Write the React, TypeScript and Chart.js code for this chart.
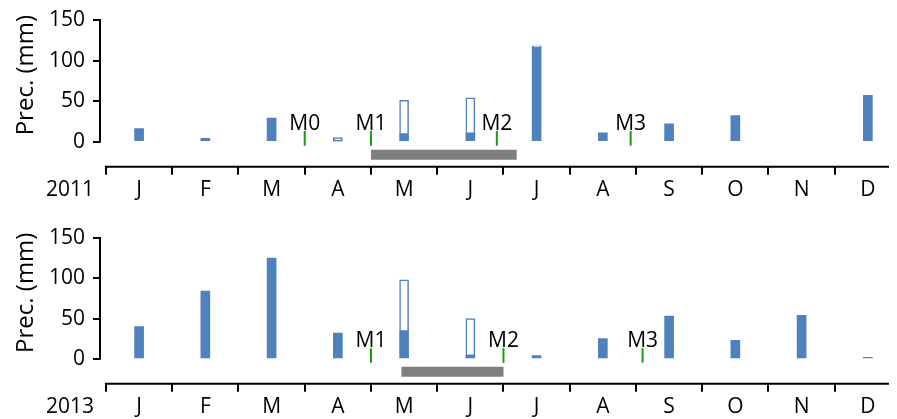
import React, { useEffect, useRef } from 'react';
import { Chart, registerables } from 'chart.js';

Chart.register(...registerables);

// ---------- data ----------
const MONTHS = ['J', 'F', 'M', 'A', 'M', 'J', 'J', 'A', 'S', 'O', 'N', 'D'];
const Y_TICKS = [0, 50, 100, 150];

const FILLED_2011 = [16, 4, 29, 1, 9, 10, 116, 11, 22, 32, 0, 57];
const TOTAL_2011 = [16, 4, 29, 5, 51, 54, 118, 11, 22, 32, 0, 57];
const MARK_NAMES_2011 = ['M0', 'M1', 'M2', 'M3'];
const MARK_POS_2011 = [3.0, 4.0, 5.9, 7.92];
const GRAY_2011 = [4.0, 6.2];

const FILLED_2013 = [40, 84, 125, 32, 34, 4, 4, 25, 53, 23, 54, 2];
const TOTAL_2013 = [40, 84, 125, 32, 98, 50, 4, 25, 53, 23, 54, 2];
const MARK_NAMES_2013 = ['M1', 'M2', 'M3'];
const MARK_POS_2013 = [4.0, 6.0, 8.1];
const GRAY_2013 = [4.46, 6.0];

// ---------- style ----------
const BLUE = '#4f81bd';
const GREEN = '#12a012';
const GRAY = '#7f7f7f';
const FAMILY = "'Open Sans', sans-serif";
const TICK_SIZE = 21;
const TITLE_SIZE = 24;
const X_TICK_LEN = 8;
const X_TICK_PAD = 3;
const MARK_LO = -5;
const MARK_HI = 13;
const LABEL_Y = 22;
const GRAY_Y = -16;
const TITLE_CENTER = 82;

const decor = {
  id: 'decor',
  afterDraw(chart: any, _args: any, opts: any) {
    const { ctx, chartArea, scales } = chart;
    const x = scales.x;
    const y = scales.y;
    ctx.save();
    ctx.strokeStyle = '#000';
    ctx.lineWidth = 2;
    // y axis line (0..150)
    const ax = chartArea.left;
    ctx.beginPath();
    ctx.moveTo(ax, y.getPixelForValue(Y_TICKS[Y_TICKS.length - 1]) - 1);
    ctx.lineTo(ax, y.getPixelForValue(0) + 1);
    ctx.stroke();
    // timeline axis line
    ctx.beginPath();
    ctx.moveTo(x.getPixelForValue(0) - 1, chartArea.bottom);
    ctx.lineTo(chartArea.right, chartArea.bottom);
    ctx.stroke();

    ctx.fillStyle = '#000';
    // year label
    ctx.font = `${TICK_SIZE}px ${FAMILY}`;
    ctx.textAlign = 'right';
    ctx.textBaseline = 'middle';
    const ly = x.top + X_TICK_LEN + X_TICK_PAD + (TICK_SIZE * 1.2) / 2;
    ctx.fillText(opts.year, x.getPixelForValue(0) - 12, ly);

    // marker labels
    ctx.textAlign = 'center';
    opts.names.forEach((n: string, i: number) => {
      ctx.fillText(n, x.getPixelForValue(opts.pos[i]), y.getPixelForValue(LABEL_Y));
    });

    // y title
    ctx.font = `${TITLE_SIZE}px ${FAMILY}`;
    ctx.translate(18, y.getPixelForValue(TITLE_CENTER));
    ctx.rotate(-Math.PI / 2);
    ctx.textAlign = 'center';
    ctx.textBaseline = 'middle';
    ctx.fillText('Prec. (mm)', 0, 0);
    ctx.restore();
  },
};

type PanelProps = {
  year: string;
  filled: number[];
  total: number[];
  names: string[];
  pos: number[];
  gray: number[];
  height: number;
  padBottom: number;
};

function Panel({ year, filled, total, names, pos, gray, height, padBottom }: PanelProps) {
  const ref = useRef<HTMLCanvasElement | null>(null);
  useEffect(() => {
    if (!ref.current) return;
    const chart = new Chart(ref.current, {
      type: 'bar',
      data: {
        datasets: [
          {
            type: 'bar',
            label: 'filled',
            data: filled.flatMap((v, i) => (v > 0 ? [{ x: i + 0.5, y: v }] : [])),
            backgroundColor: BLUE,
            borderWidth: 0,
            barThickness: 9,
            grouped: false,
          } as any,
          {
            type: 'bar',
            label: 'hollow',
            data: total.flatMap((t, i) => (t > filled[i] ? [{ x: i + 0.5, y: [filled[i], t] }] : [])),
            backgroundColor: '#ffffff',
            borderColor: BLUE,
            borderWidth: 1.5,
            borderSkipped: false,
            barThickness: 9,
            grouped: false,
          } as any,
          {
            type: 'line',
            label: 'period',
            data: [
              { x: gray[0], y: GRAY_Y },
              { x: gray[1], y: GRAY_Y },
            ],
            borderColor: GRAY,
            borderWidth: 10,
            borderCapStyle: 'butt',
            pointRadius: 0,
          } as any,
          {
            type: 'line',
            label: 'markers',
            data: pos.flatMap((p) => [
              { x: p, y: MARK_LO },
              { x: p, y: MARK_HI },
              { x: p, y: null },
            ]),
            borderColor: GREEN,
            borderWidth: 2,
            pointRadius: 0,
            spanGaps: false,
          } as any,
        ],
      },
      options: {
        animation: false,
        responsive: true,
        maintainAspectRatio: false,
        devicePixelRatio: 1,
        layout: { padding: { top: 12, bottom: padBottom, left: 0, right: 0 } },
        plugins: {
          legend: { display: false },
          tooltip: { enabled: false },
          decor: { year, names, pos },
        } as any,
        scales: {
          x: {
            type: 'linear',
            min: -0.09,
            max: 11.94,
            offset: false,
            afterBuildTicks: (s: any) => {
              s.ticks = MONTHS.map((_, i) => ({ value: i + 0.5 }));
            },
            afterFit: (s: any) => {
              s.paddingLeft = 0;
              s.paddingRight = 0;
            },
            ticks: {
              autoSkip: false,
              maxRotation: 0,
              padding: X_TICK_PAD,
              color: '#000',
              font: { family: FAMILY, size: TICK_SIZE },
              callback: (_v: any, i: number) => MONTHS[i],
            },
            grid: {
              offset: true,
              drawOnChartArea: false,
              drawTicks: true,
              tickLength: X_TICK_LEN,
              color: '#000',
              lineWidth: 2,
            },
            border: { display: false },
          },
          y: {
            type: 'linear',
            min: -31,
            max: 150,
            afterBuildTicks: (s: any) => {
              s.ticks = Y_TICKS.map((v) => ({ value: v }));
            },
            afterFit: (s: any) => {
              s.width = 92;
              s.paddingTop = 0;
              s.paddingBottom = 0;
            },
            ticks: {
              padding: 8,
              color: '#000',
              font: { family: FAMILY, size: TICK_SIZE },
            },
            grid: {
              drawOnChartArea: false,
              drawTicks: true,
              tickLength: 7,
              color: '#000',
              lineWidth: 2,
            },
            border: { display: false },
          },
        },
      } as any,
      plugins: [decor],
    });
    return () => chart.destroy();
  }, []);
  return (
    <div style={{ position: 'relative', width: 889, height }}>
      <canvas ref={ref} style={{ display: 'block' }} />
    </div>
  );
}

export default function App() {
  useEffect(() => {
    document.documentElement.style.overflow = 'hidden';
  }, []);
  return (
    <div style={{ width: 889 }}>
      <Panel
        year="2011"
        filled={FILLED_2011}
        total={TOTAL_2011}
        names={MARK_NAMES_2011}
        pos={MARK_POS_2011}
        gray={GRAY_2011}
        height={218}
        padBottom={20}
      />
      <Panel
        year="2013"
        filled={FILLED_2013}
        total={TOTAL_2013}
        names={MARK_NAMES_2013}
        pos={MARK_POS_2013}
        gray={GRAY_2013}
        height={197}
        padBottom={0}
      />
    </div>
  );
}
